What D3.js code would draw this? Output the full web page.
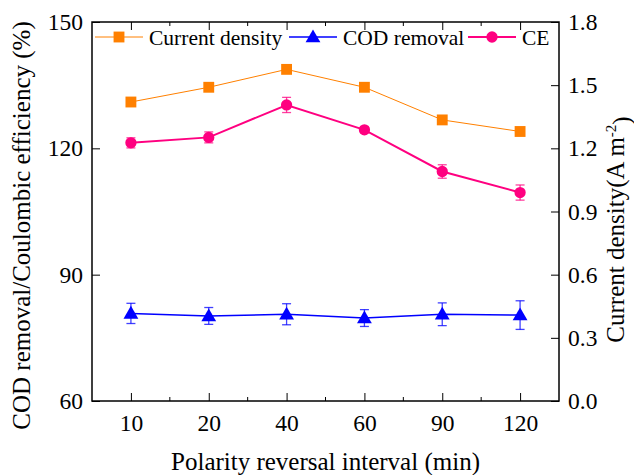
<!DOCTYPE html>
<html lang="en">
<head>
    <meta charset="UTF-8">
    <style>
        body { margin: 0; background: #fff; }
        .frame { fill: none; stroke: #000; stroke-width: 1.5px; }
        svg text { font-family: "Liberation Serif", "Times New Roman", Times, serif; }
    </style>
</head>
<body>
    <svg width="634" height="475"></svg>
    <script src="https://cdn.jsdelivr.net/npm/d3@7"></script>
    <script>

        // values
        var intervals = ["10", "20", "40", "60", "90", "120"];
        var currentDensity = [1.42, 1.49, 1.575, 1.49, 1.335, 1.28];
        var codRemoval = [80.8, 80.2, 80.6, 79.7, 80.6, 80.4];
        var codErr = [2.4, 2.0, 2.5, 2.0, 2.7, 3.4];
        var ce = [121.3, 122.6, 130.3, 124.4, 114.5, 109.5];
        var ceErr = [1.2, 1.3, 1.8, 0.7, 1.6, 1.8];
        var leftTicks = [60, 90, 120, 150];
        var rightTicks = [0, 0.3, 0.6, 0.9, 1.2, 1.5, 1.8];

        var svg = d3.select("svg"),
                margin = {top: 22, right: 75, bottom: 74, left: 92},
                width = svg.attr("width") - margin.left - margin.right,
                height = svg.attr("height") - margin.top - margin.bottom,
                g = svg.append("g").attr("transform", "translate(" + margin.left + "," + margin.top + ")");

        var x = d3.scalePoint().domain(intervals).range([0, width]).padding(0.5),
                yL = d3.scaleLinear().domain([60, 150]).range([height, 0]),
                yR = d3.scaleLinear().domain([0, 1.8]).range([height, 0]);

        var step = x.step();
        var minorX = intervals.map(function(d) { return x(d) + step / 2; }).slice(0, -1);

        // axes, ticks pointing inward
        g.append("g")
                .attr("class", "axis axis--x")
                .attr("transform", "translate(0," + height + ")")
                .call(d3.axisBottom(x).tickSizeInner(-8).tickSizeOuter(0).tickPadding(13));

        g.append("g")
                .attr("class", "axis axis--top")
                .call(d3.axisTop(x).tickSizeInner(-8).tickSizeOuter(0).tickFormat(""));

        [height, 0].forEach(function(yy) {
            g.selectAll(null)
                    .data(minorX)
                    .enter().append("line")
                    .attr("x1", function(d) { return d; })
                    .attr("x2", function(d) { return d; })
                    .attr("y1", yy)
                    .attr("y2", yy === 0 ? 4 : yy - 4)
                    .attr("stroke", "#000")
                    .attr("stroke-width", 1);
        });

        g.append("g")
                .attr("class", "axis axis--y")
                .call(d3.axisLeft(yL).tickValues(leftTicks).tickSizeInner(-8).tickSizeOuter(0).tickPadding(9));

        g.append("g")
                .attr("class", "axis axis--y2")
                .attr("transform", "translate(" + width + ",0)")
                .call(d3.axisRight(yR).tickValues(rightTicks).tickFormat(d3.format(".1f"))
                        .tickSizeInner(-8).tickSizeOuter(0).tickPadding(9));

        g.selectAll(".axis path").remove();
        g.selectAll(".axis line").attr("stroke", "#000").attr("stroke-width", 1);
        g.selectAll(".axis").attr("font-family", null).attr("font-size", null);
        g.selectAll(".axis text").style("font-size", "23.5px");

        g.append("rect")
                .attr("class", "frame")
                .attr("width", width)
                .attr("height", height);

        // axis titles
        g.append("text")
                .attr("x", width / 2)
                .attr("y", height + 69)
                .attr("text-anchor", "middle")
                .style("font-size", "25px")
                .text("Polarity reversal interval (min)");

        g.append("text")
                .attr("transform", "translate(" + (-62) + "," + (height / 2 + 14) + ") rotate(-90)")
                .attr("text-anchor", "middle")
                .style("font-size", "25px")
                .text("COD removal/Coulombic efficiency (%)");

        var rt = g.append("text")
                .attr("transform", "translate(" + (width + 65) + "," + (height / 2 + 18) + ") rotate(-90)")
                .attr("text-anchor", "middle")
                .style("font-size", "25px");
        rt.append("tspan").text("Current density(A m");
        rt.append("tspan").attr("dy", "-0.55em").style("font-size", "15px").text("-2");
        rt.append("tspan").attr("dy", "0.55em").text(")");

        // series
        var series = [
            {id: "Current density", color: "#FF8000", width: 1, values: currentDensity, err: null, y: yR, shape: "square"},
            {id: "COD removal", color: "#0000FF", width: 1.5, values: codRemoval, err: codErr, y: yL, shape: "triangle"},
            {id: "CE", color: "#FF0080", width: 2, values: ce, err: ceErr, y: yL, shape: "circle"}
        ];

        var symbols = {
            square: d3.symbol().type(d3.symbolSquare).size(118),
            triangle: d3.symbol().type(d3.symbolTriangle).size(95),
            circle: d3.symbol().type(d3.symbolCircle).size(100)
        };

        series.forEach(function(s) {
            var pts = s.values.map(function(v, i) {
                return {x: x(intervals[i]), y: s.y(v), v: v, e: s.err ? s.err[i] : 0};
            });
            var sg = g.append("g").attr("class", "series");

            sg.append("path")
                    .datum(pts)
                    .attr("fill", "none")
                    .attr("stroke", s.color)
                    .attr("stroke-width", s.width)
                    .attr("d", d3.line().x(function(d) { return d.x; }).y(function(d) { return d.y; }));

            if (s.err) {
                var eb = sg.selectAll(".err")
                        .data(pts)
                        .enter().append("g")
                        .attr("class", "err")
                        .attr("stroke", s.color)
                        .attr("stroke-opacity", 0.75)
                        .attr("stroke-width", 1.3);
                eb.append("line")
                        .attr("x1", function(d) { return d.x; })
                        .attr("x2", function(d) { return d.x; })
                        .attr("y1", function(d) { return s.y(d.v + d.e); })
                        .attr("y2", function(d) { return s.y(d.v - d.e); });
                eb.selectAll(".cap")
                        .data(function(d) { return [[d.x, s.y(d.v + d.e)], [d.x, s.y(d.v - d.e)]]; })
                        .enter().append("line")
                        .attr("x1", function(d) { return d[0] - 4.5; })
                        .attr("x2", function(d) { return d[0] + 4.5; })
                        .attr("y1", function(d) { return d[1]; })
                        .attr("y2", function(d) { return d[1]; });
            }

            sg.selectAll(".pt")
                    .data(pts)
                    .enter().append("path")
                    .attr("class", "pt")
                    .attr("transform", function(d) { return "translate(" + d.x + "," + (s.shape === "triangle" ? d.y + 1 : d.y) + ")"; })
                    .attr("d", symbols[s.shape])
                    .attr("fill", s.color);
        });

        // legend along the top inside the frame
        var legendX = [3, 197, 376];
        var legend = g.selectAll(".legend")
                .data(series)
                .enter().append("g")
                .attr("class", "legend")
                .attr("transform", function(d, i) { return "translate(" + legendX[i] + ",15)"; });

        legend.append("line")
                .attr("x1", 0).attr("x2", 48)
                .attr("stroke", function(d) { return d.color; })
                .attr("stroke-width", function(d) { return d.width; });
        legend.append("path")
                .attr("transform", function(d) { return "translate(24," + (d.shape === "triangle" ? 1 : 0) + ")"; })
                .attr("d", function(d) { return symbols[d.shape](); })
                .attr("fill", function(d) { return d.color; });
        legend.append("text")
                .attr("x", 54)
                .attr("dy", "0.35em")
                .style("font-size", "21.5px")
                .text(function(d) { return d.id; });

    </script>
</body>
</html>
